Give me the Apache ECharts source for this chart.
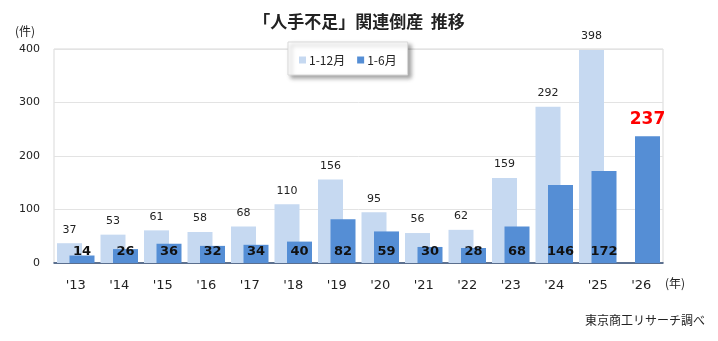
<!DOCTYPE html>
<html><head><meta charset="utf-8">
<script src="https://cdn.jsdelivr.net/npm/echarts@6/dist/echarts.min.js"></script>
<style>html,body{margin:0;padding:0;background:#fff}#c{width:718px;height:341px}</style>
</head><body><div id="c"></div>
<script>
const categories = ["'13","'14","'15","'16","'17","'18","'19","'20","'21","'22","'23","'24","'25","'26"];
const fullYear = [37,53,61,58,68,110,156,95,56,62,159,292,398,null];
const firstHalf = [14,26,36,32,34,40,82,59,30,28,68,146,172,237];
const yTicks = [0,100,200,300,400];

const FONT = '"DejaVu Sans", Verdana, "Noto Sans CJK JP", sans-serif';
const chart = echarts.init(document.getElementById('c'));
chart.setOption({
  animation: false,
  backgroundColor: '#fff',
  title: {
    text: '「人手不足」関連倒産  推移',
    left: 'center', top: 8,
    textStyle: {fontFamily: '"Noto Sans CJK JP", sans-serif', fontSize: 17, fontWeight: 'bold', color: '#222'}
  },
  legend: {
    left: 288, top: 42,
    data: ['1-12月','1-6月'],
    itemWidth: 7, itemHeight: 7, itemGap: 12,
    padding: [12, 11, 9, 11],
    backgroundColor: '#fff',
    borderColor: '#d9d9d9', borderWidth: 1,
    shadowColor: 'rgba(0,0,0,0.35)', shadowBlur: 4, shadowOffsetX: 3, shadowOffsetY: 3,
    textStyle: {fontFamily: '"Noto Sans CJK JP", sans-serif', fontSize: 12, color: '#222', padding: [0, 0, 0, -2]},
    icon: 'rect'
  },
  grid: {left: 54, right: 55, top: 49, bottom: 78, show: true, borderColor: '#d9d9d9', borderWidth: 1},
  xAxis: {
    type: 'category', data: categories,
    axisTick: {show: false},
    axisLine: {lineStyle: {color: '#2f4a73', width: 1.5}},
    axisLabel: {fontFamily: FONT, fontSize: 13, color: '#222', margin: 16}
  },
  yAxis: {
    type: 'value', min: yTicks[0], max: yTicks[yTicks.length-1], interval: 100,
    axisLine: {show: false}, axisTick: {show: false},
    splitLine: {lineStyle: {color: '#e3e3e3'}},
    axisLabel: {fontFamily: FONT, fontSize: 11, color: '#222', margin: 14}
  },
  series: [
    {
      name: '1-12月', type: 'bar', data: fullYear,
      barWidth: 25, barGap: '-50%',
      itemStyle: {color: '#c6d9f1'},
      label: {show: true, position: 'top', distance: 8, fontFamily: FONT, fontSize: 11, color: '#222'}
    },
    {
      name: '1-6月', type: 'bar',
      data: firstHalf.map((v, i) => i === firstHalf.length - 1
        ? {value: v, label: {position: 'top', distance: 8, color: '#ff0000', fontSize: 17, fontWeight: 'bold'}}
        : v),
      barWidth: 25,
      itemStyle: {color: '#558ed5'},
      label: {show: true, position: 'insideBottom', distance: 5, fontFamily: FONT, fontSize: 13, fontWeight: 'bold', color: '#111'}
    }
  ],
  graphic: [
    {type: 'text', left: 15, top: 25, style: {text: '(件)', font: '12px "Noto Sans CJK JP", sans-serif', fill: '#222'}},
    {type: 'text', left: 665, top: 277, style: {text: '(年)', font: '12px "Noto Sans CJK JP", sans-serif', fill: '#222'}},
    {type: 'text', right: 13, top: 314, style: {text: '東京商工リサーチ調べ', font: '12px "Noto Sans CJK JP", sans-serif', fill: '#222'}}
  ]
});
</script></body></html>
